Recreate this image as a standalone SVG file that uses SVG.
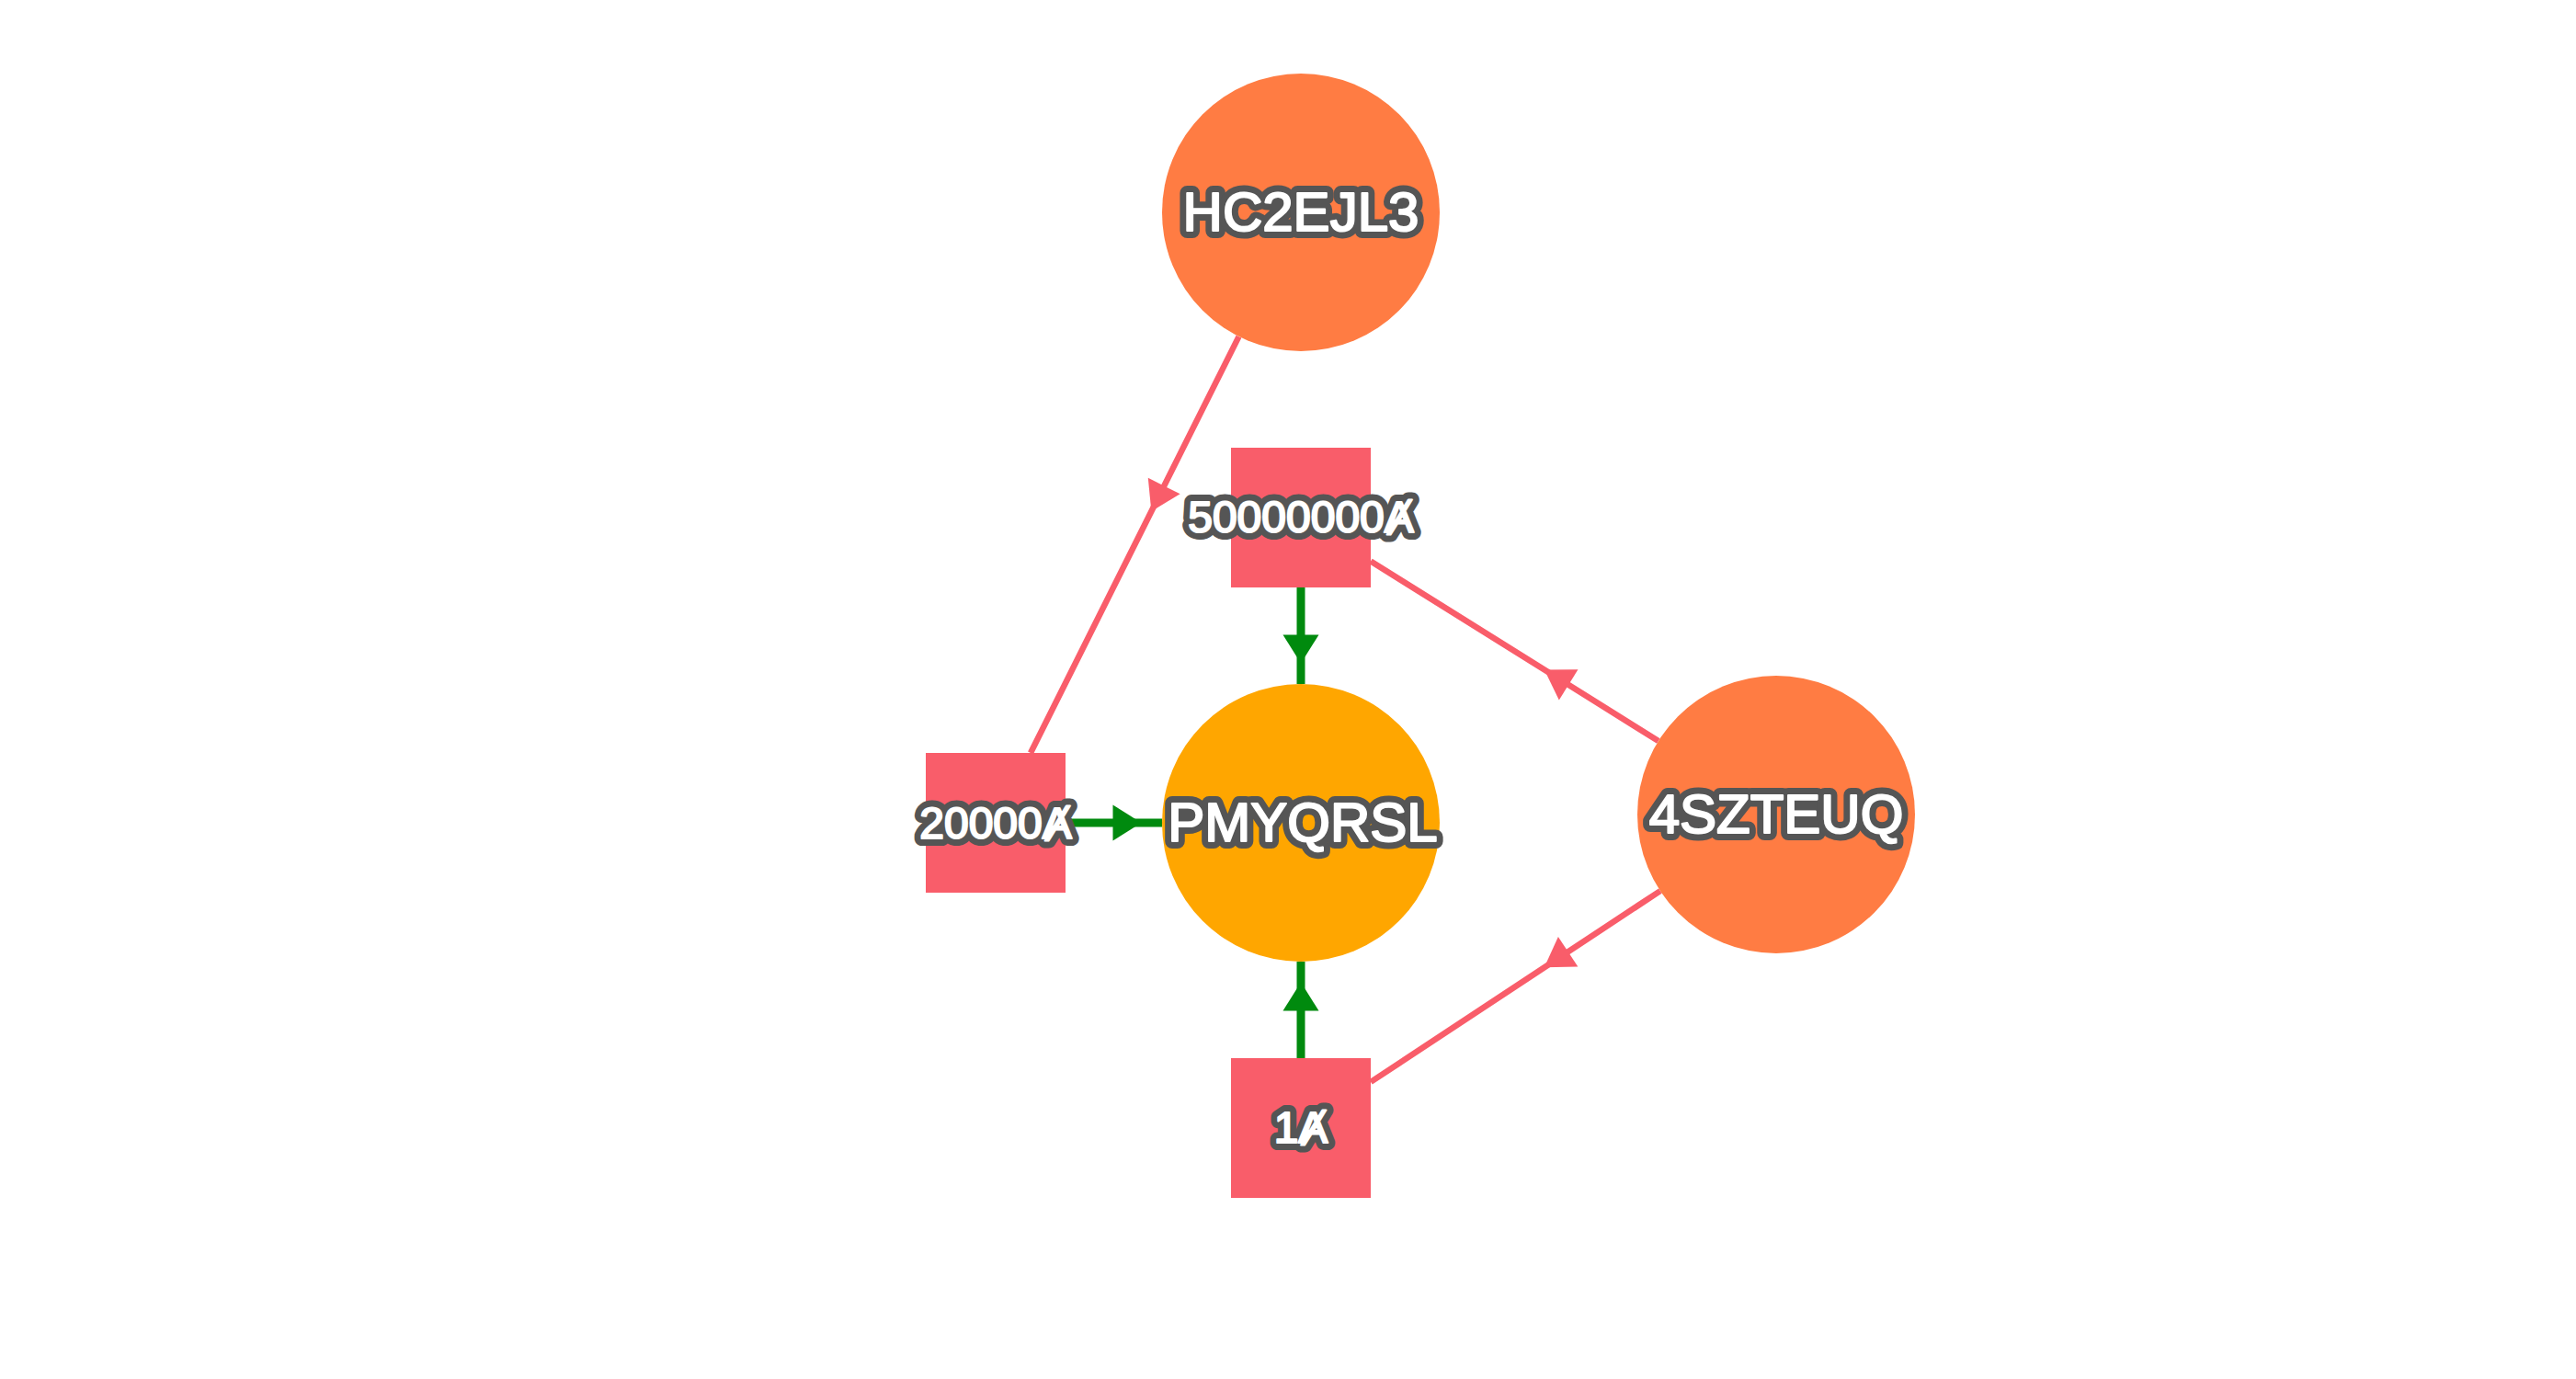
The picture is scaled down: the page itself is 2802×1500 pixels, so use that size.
<svg xmlns="http://www.w3.org/2000/svg" width="2802" height="1500" viewBox="0 0 2802 1500">
  <style>
    .bg { fill: #ffffff; }
    .edge-red { fill: none; stroke: #f95d6a; stroke-width: 6.5; marker-mid: url(#arrow-red); }
    .edge-green { fill: none; stroke: #008a0e; stroke-width: 9; marker-mid: url(#arrow-green); }
    .circle-orange { fill: #ff7c43; }
    .circle-amber { fill: #ffa600; }
    .square { fill: #f95d6a; }
    .label { font-family: "Liberation Sans", "DejaVu Sans", Arial, sans-serif; text-anchor: middle; }
    .big { font-size: 60px; }
    .small { font-size: 48px; }
    .halo { fill: #555555; stroke: #555555; stroke-width: 16; stroke-linejoin: round; }
    .fg { fill: #ffffff; stroke: #ffffff; stroke-width: 2.2; stroke-linejoin: round; }
  </style>
  <defs>
    <marker id="arrow-red" markerUnits="userSpaceOnUse" viewBox="0 0 40 40" markerWidth="40" markerHeight="40" refX="38.5" refY="19.5" orient="auto" overflow="visible">
      <path d="M0,0 L31,19.5 L0,39 Z" fill="#f95d6a"/>
    </marker>
    <marker id="arrow-green" markerUnits="userSpaceOnUse" viewBox="0 0 40 40" markerWidth="40" markerHeight="40" refX="38.5" refY="19.5" orient="auto" overflow="visible">
      <path d="M0,0 L31,19.5 L0,39 Z" fill="#008a0e"/>
    </marker>
  </defs>
  <rect class="bg" x="0" y="0" width="2802" height="1500"/>

  <g id="connectors">
    <path id="e-HC2EJL3-20000" class="edge-red" d="M1347.5,366.1 L1249,563 L1121,819"/>
    <path id="e-4SZTEUQ-50000000" class="edge-red" d="M1803.9,806 L1673.5,724.5 L1491,610.5"/>
    <path id="e-4SZTEUQ-1" class="edge-red" d="M1805.9,969.1 L1673.5,1056.5 L1491,1176.9"/>
    <path id="e-50000000-PMYQRSL" class="edge-green" d="M1415,639 L1415,729 L1415,744"/>
    <path id="e-20000-PMYQRSL" class="edge-green" d="M1159,895 L1249,895 L1264,895"/>
    <path id="e-1-PMYQRSL" class="edge-green" d="M1415,1151 L1415,1061 L1415,1046"/>
  </g>

  <g id="node-HC2EJL3">
    <circle class="circle-orange" cx="1415" cy="231" r="151"/>
    <use class="halo" href="#lbl-HC2EJL3"/>
    <g class="fg"><text id="lbl-HC2EJL3" class="label big" x="1415" y="251">HC2EJL3</text></g>
  </g>
  <g id="node-50000000">
    <rect class="square" x="1339" y="487" width="152" height="152"/>
    <use class="halo" href="#lbl-50000000"/>
    <g class="fg"><text id="lbl-50000000" class="label small" x="1415" y="579">50000000Ⱥ</text></g>
  </g>
  <g id="node-PMYQRSL">
    <circle class="circle-amber" cx="1415" cy="895" r="151"/>
    <use class="halo" href="#lbl-PMYQRSL"/>
    <g class="fg"><text id="lbl-PMYQRSL" class="label big" x="1417" y="915">PMYQRSL</text></g>
  </g>
  <g id="node-20000">
    <rect class="square" x="1007" y="819" width="152" height="152"/>
    <use class="halo" href="#lbl-20000"/>
    <g class="fg"><text id="lbl-20000" class="label small" x="1083" y="912">20000Ⱥ</text></g>
  </g>
  <g id="node-4SZTEUQ">
    <circle class="circle-orange" cx="1932" cy="886" r="151"/>
    <use class="halo" href="#lbl-4SZTEUQ"/>
    <g class="fg"><text id="lbl-4SZTEUQ" class="label big" x="1932" y="906">4SZTEUQ</text></g>
  </g>
  <g id="node-1">
    <rect class="square" x="1339" y="1151" width="152" height="152"/>
    <use class="halo" href="#lbl-1"/>
    <g class="fg"><text id="lbl-1" class="label small" x="1415" y="1243">1Ⱥ</text></g>
  </g>
</svg>
